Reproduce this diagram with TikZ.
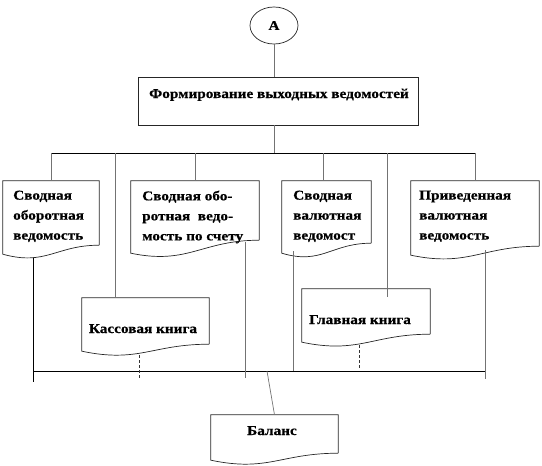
\documentclass[tikz,border=0pt]{standalone}
\usepackage{fontspec}
\setmainfont{Liberation Serif}[FakeStretch=1.13,FakeBold=0.6]
\usetikzlibrary{calc,shapes.geometric}
\begin{document}
\begin{tikzpicture}[x=1pt,y=-1pt,
  every node/.style={font=\bfseries\fontsize{13.5}{20}\selectfont},
  box/.style={draw=black!85,line width=0.7pt},
  bus/.style={line width=0.9pt,black},
  conn/.style={line width=0.7pt,black!55},
  dconn/.style={line width=0.7pt,black!80,densely dashed},
  sconn/.style={line width=0.8pt,black},
  txt/.style={inner sep=0pt,align=left,anchor=north west}
]
\useasboundingbox (0,0) rectangle (542,466);
% document shape macro: name, x1, top, x2, yr, drop
\newcommand\docbox[6]{%
  \node[inner sep=0pt,minimum width=#4-#2,minimum height=#5-#3] (#1) at ({(#2+#4)/2},{(#3+#5)/2}) {};
  \draw[box] (#1.south east) -- (#1.north east) -- (#1.north west) -- ($(#1.south west)+(0,#6)$)
    .. controls ($(#1.south west)+({0.45*(#4-#2)},#6+12)$) and ($(#1.south east)+({-0.45*(#4-#2)},0)$) .. (#1.south east);
}
% circle A
\node[draw=black!85,line width=0.7pt,ellipse,minimum width=48,minimum height=37,inner sep=0pt] (A) at (274,25.5) {А};
% Formirovanie box
\node[box,minimum width=280,minimum height=48,inner sep=0pt] (F) at (278,101) {};
\node[inner sep=0pt,anchor=base] (Ft) at (279,98) {Формирование выходных ведомостей};
% documents
\docbox{d1}{3}{181}{99}{245}{9}
\docbox{d2}{131}{181}{259}{240}{13}
\docbox{d3}{282}{181}{371}{243}{10}
\docbox{d4}{411}{181}{539}{246}{9}
\docbox{kb}{82}{298}{209}{344}{7}
\docbox{gb}{302}{289}{430}{334}{8}
\docbox{bl}{211}{415}{338}{453}{7}
\node[txt] (t1) at (13,190.5) {Сводная\\оборотная\\ведомость};
\node[txt] (t2) at (142,190.5) {Сводная обо-\\ротная\ \ ведо-\\мость по счету};
\node[txt] (t3) at (293,190.5) {Сводная\\валютная\\ведомост};
\node[txt] (t4) at (419,190.5) {Приведенная\\валютная\\ведомость};
\node[inner sep=0pt,anchor=base] (tk) at (143,333) {Кассовая книга};
\node[inner sep=0pt,anchor=base] (tg) at (360,324) {Главная книга};
\node[inner sep=0pt,anchor=base] (tb) at (272,435) {Баланс};
% junctions
\coordinate (J1) at (274,153);
\coordinate (J2) at (267,371);
\coordinate (b3) at (323,181);
\coordinate (bk) at (115,298);
\coordinate (bg) at (387,297);
% top connectors
\draw[conn] (A.south) -- (A.south |- F.north);
\draw[conn] (A.south |- F.south) -- (J1);
\draw[bus] (d1.north |- J1) -- (d4.north |- J1);
\draw[conn] (d1.north |- J1) -- (d1.north);
\draw[conn] (bk |- J1) -- (bk);
\draw[conn] (d2.north |- J1) -- (d2.north);
\draw[conn] (b3 |- J1) -- (b3);
\draw[conn] (bg |- J1) -- (bg);
\draw[conn] (d4.north |- J1) -- (d4.north);
% bottom bus
\coordinate (L1) at (33,258);
\coordinate (L1e) at (33,382);
\coordinate (Lk) at (139,355);
\coordinate (Lke) at (139,379);
\coordinate (L2) at (245,242);
\coordinate (L2e) at (245,378);
\coordinate (L3) at (293,251);
\coordinate (Lg) at (359,345);
\coordinate (Lge) at (359,369);
\coordinate (L4) at (485,250);
\coordinate (L4e) at (485,379);
\draw[bus] (L1 |- J2) -- (L4 |- J2);
\draw[sconn] (L1) -- (L1e);
\draw[dconn] (Lk) -- (Lke);
\draw[conn] (L2) -- (L2e);
\draw[conn] (L3) -- (L3 |- J2);
\draw[dconn] (Lg) -- (Lge);
\draw[conn] (L4) -- (L4e);
\draw[conn] (J2) -- (bl.north);
\end{tikzpicture}
\end{document}
